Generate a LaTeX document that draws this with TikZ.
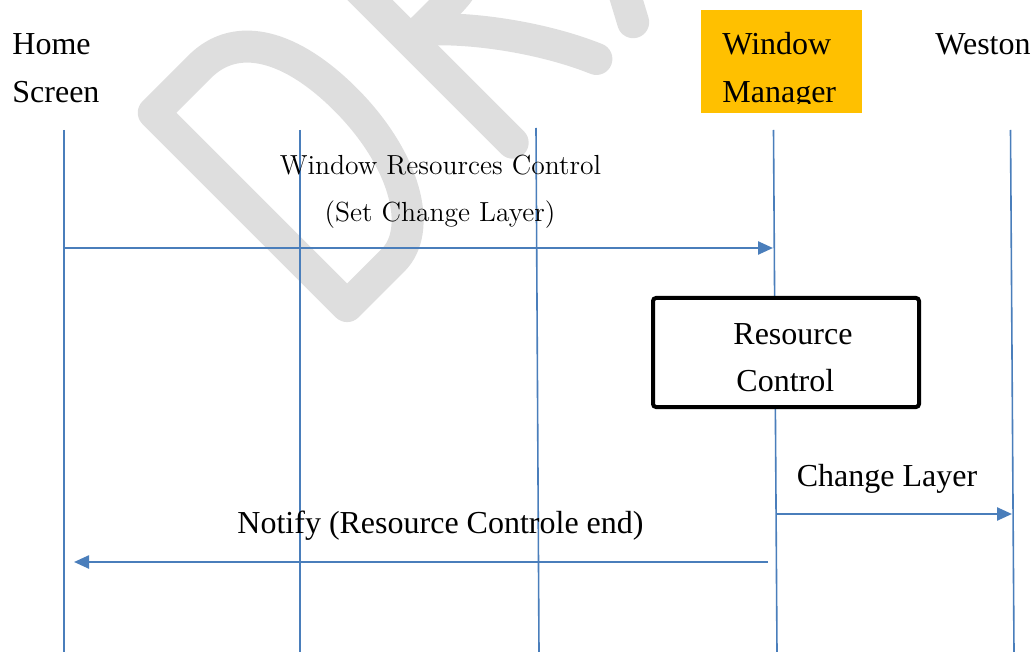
\documentclass[tikz,border=0pt]{standalone}
\usepackage{fontspec}
\newfontfamily\tnr{Liberation Serif}
\usetikzlibrary{arrows.meta}
\definecolor{lifeblue}{HTML}{4A7EBB}
\definecolor{wmorange}{HTML}{FFC000}
\definecolor{wmark}{HTML}{DEDEDE}
\begin{document}
\begin{tikzpicture}[x=0.5pt,y=-0.5pt,
  lbl/.style={font=\tnr\fontsize{16}{19}\selectfont, inner sep=0pt, anchor=base west},
  clbl/.style={font=\tnr\fontsize{16}{19}\selectfont, inner sep=0pt, anchor=base},
  mlbl/.style={font=\fontsize{13.8}{16}\selectfont, inner sep=0pt, anchor=base},
  life/.style={draw=lifeblue, line width=0.8pt},
  msg/.style={draw=lifeblue, line width=1.2pt, -{Triangle[length=7.5pt,width=6.5pt]}},
  wm/.style={draw=wmark, line width=16pt, line join=round, line cap=round}]
\useasboundingbox (0,0) rectangle (1034,652);
% watermark
\begin{scope}
  \clip (0,0) rectangle (1034,652);
  \begin{scope}[shift={(347.5,330.5)}, rotate=45, x=0.5pt, y=0.5pt]
    % D
    \draw[wm] (17,17.5) -- (17,291) -- (82,291)
      .. controls (135,291) and (162,240) .. (162,165)
      .. controls (162,80) and (125,17.5) .. (82,17.5) -- cycle;
    % R
    \draw[wm] (249.6,16) -- (249.6,291) -- (305,291)
      .. controls (350,291) and (365,260) .. (365,225)
      .. controls (365,185) and (345,160) .. (305,160) -- (249.6,160);
    \draw[wm] (265,160) .. controls (300,130) and (345,70) .. (368,16);
    % A
    \draw[wm] (420,16) -- (567,291) -- (714,16);
    \draw[wm] (465,100) -- (669,100);
  \end{scope}
\end{scope}
% lifelines
\coordinate (t1) at (64,130);     \coordinate (b1) at (64,652);
\coordinate (t2) at (300,130);    \coordinate (b2) at (300,652);
\coordinate (t3) at (536,128);    \coordinate (b3) at (539,652);
\coordinate (t4) at (773.5,130);  \coordinate (b4) at (777,652);
\coordinate (t5) at (1010.5,130); \coordinate (b5) at (1014,652);
\draw[life] (t1) -- (b1);
\draw[life] (t2) -- (b2);
\draw[life] (t3) -- (b3);
\draw[life] (t4) -- (b4);
\draw[life] (t5) -- (b5);
% headers
\node[lbl] (hs1) at (12,55) {Home};
\node[lbl] (hs2) at (12,103) {Screen};
\node[fill=wmorange, minimum width=80.5pt, minimum height=51.5pt, inner sep=0pt, anchor=north west] (wm) at (701,10) {};
\begin{scope}
  \clip (701,10) rectangle (862,104);
  \node[lbl] (wm1) at (722,55) {Window};
  \node[lbl] (wm2) at (722,103) {Manager};
\end{scope}
\node[lbl] (we) at (935,55) {Weston};
% resource control box
\node[draw=black, line width=2pt, fill=white, rounded corners=1.5pt, minimum width=133pt, minimum height=54.5pt, inner sep=0pt, anchor=north west] (rc) at (651,296) {};
\node[lbl] (rc1) at (733,344) {Resource};
\node[lbl] (rc2) at (736,392) {Control};
% messages
\coordinate (m1s) at (64,248);  \coordinate (m1e) at (773,248);
\coordinate (m2s) at (777,514); \coordinate (m2e) at (1012,514);
\coordinate (m3s) at (768,562); \coordinate (m3e) at (74,562);
\draw[msg] (m1s) -- (m1e);
\draw[msg] (m2s) -- (m2e);
\draw[msg] (m3s) -- (m3e);
\node[mlbl] (l1a) at (440.5,175) {Window Resources Control};
\node[mlbl] (l1b) at (440,222) {(Set Change Layer)};
\node[clbl] (l2) at (887,486) {Change Layer};
\node[clbl] (l3) at (440.5,533) {Notify (Resource Controle end)};
\end{tikzpicture}
\end{document}
